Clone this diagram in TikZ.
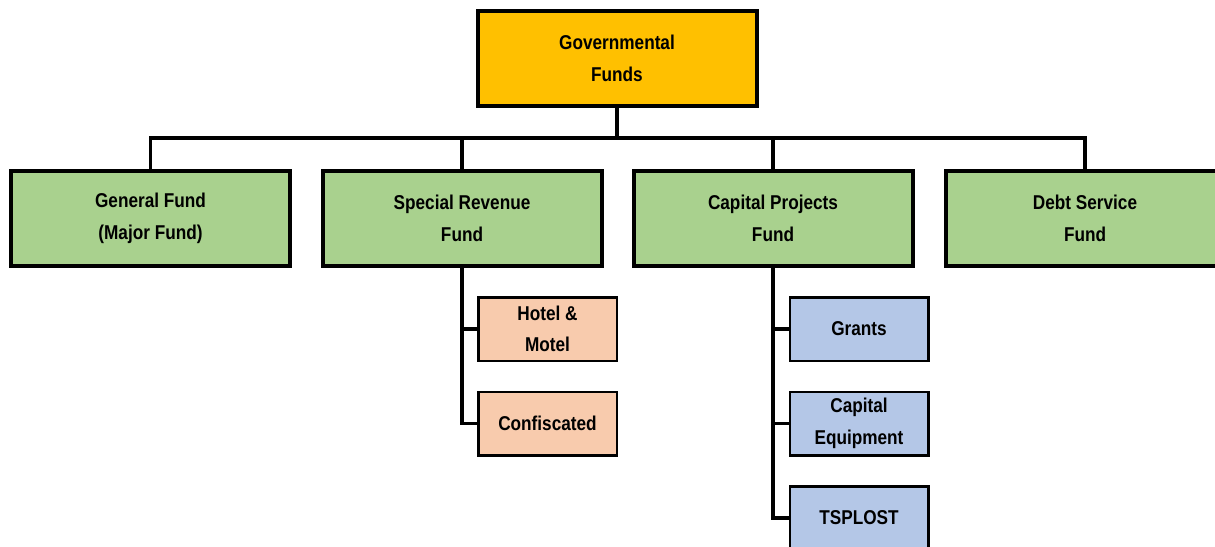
\documentclass[tikz,border=0pt]{standalone}
\usepackage{fontspec}
\newfontfamily\lab[FakeStretch=0.86]{Liberation Sans}
\definecolor{govc}{HTML}{FFC000}
\definecolor{grn}{HTML}{A9D18E}
\definecolor{sal}{HTML}{F8CBAD}
\definecolor{blu}{HTML}{B4C7E7}
\begin{document}
\begin{tikzpicture}[x=1pt,y=-1pt,
  every node/.style={font=\lab\bfseries\fontsize{20}{31.5}\selectfont, align=center, inner sep=0pt},
  mainbox/.style={draw=black, line width=4pt, minimum width=279pt, minimum height=95pt},
  subbox/.style={draw=black, line width=2.5pt, minimum width=138.5pt, minimum height=63.5pt},
  conn/.style={line width=3.5pt, line join=miter}]
\useasboundingbox (0,0) rectangle (1215,546);
\clip (0,0) rectangle (1215,546);
\node[mainbox, fill=govc] (gov) at (617,58.5) {Governmental\\Funds};
\node[mainbox, fill=grn] (gen) at (150.5,218.5) {General Fund\\(Major Fund)};
\node[mainbox, fill=grn] (spec) at (462,218.5) {Special Revenue\\Fund};
\node[mainbox, fill=grn] (cap) at (773,218.5) {Capital Projects\\Fund};
\node[mainbox, fill=grn] (debt) at (1085,218.5) {Debt Service\\Fund};
\node[subbox, fill=sal] (hotel) at (547.5,329) {Hotel \&\\Motel};
\node[subbox, fill=sal] (conf) at (547.5,423.5) {Confiscated};
\node[subbox, fill=blu] (grants) at (859,329) {Grants};
\node[subbox, fill=blu] (capeq) at (859,423.5) {Capital\\Equipment};
\node[subbox, fill=blu] (tsp) at (859,518) {TSPLOST};
\coordinate (bus) at (617,138);
\draw[conn] (gov.south) -- (bus);
\draw[conn] (gen.north) |- (bus) -| (debt.north);
\draw[conn] (spec.north) -- (spec.north |- bus);
\draw[conn] (cap.north) -- (cap.north |- bus);
\draw[conn] (spec.south) |- (hotel.west);
\draw[conn] (spec.south) |- (conf.west);
\draw[conn] (cap.south) |- (grants.west);
\draw[conn] (cap.south) |- (capeq.west);
\draw[conn] (cap.south) |- (tsp.west);
\end{tikzpicture}
\end{document}
